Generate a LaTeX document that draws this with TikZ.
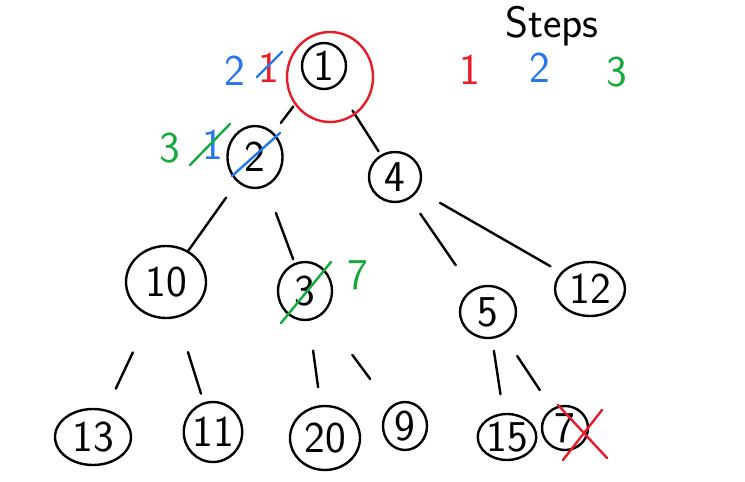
\documentclass[tikz,border=0pt]{standalone}
\usepackage{xcolor}
\usetikzlibrary{calc}
\usetikzlibrary{shapes.geometric}
\definecolor{penred}{RGB}{232,28,40}
\definecolor{penblue}{RGB}{38,118,240}
\definecolor{pengreen}{RGB}{22,170,62}

\begin{document}
\begin{tikzpicture}[x=1pt,y=-1pt,line width=2.4pt,line cap=round,line join=round,
  key/.style={draw,ellipse,inner sep=0pt,font=\sffamily\fontsize{44}{44}\selectfont},
  hand/.style={inner sep=0pt,font=\sffamily\fontsize{44}{44}\selectfont}]
\useasboundingbox (0,0) rectangle (745,482);

\node[key,minimum width=44pt,minimum height=46pt] (n1) at (324,66) {1};
\node[key,minimum width=55pt,minimum height=62pt] (n2) at (255,157) {2};
\node[key,minimum width=52pt,minimum height=50pt] (n4) at (395,177) {4};
\node[key,minimum width=80pt,minimum height=72pt] (n10) at (166,282) {10};
\node[key,minimum width=54pt,minimum height=58pt] (n3) at (305,291) {3};
\node[key,minimum width=56pt,minimum height=52pt] (n5) at (488,312) {5};
\node[key,minimum width=70pt,minimum height=54pt] (n12) at (590,289) {12};
\node[key,minimum width=76pt,minimum height=56pt] (n13) at (93,437) {13};
\node[key,minimum width=54pt,minimum height=60pt] (n11) at (213,432) {11};
\node[key,minimum width=70pt,minimum height=64pt] (n20) at (325,438) {20};
\node[key,minimum width=44pt,minimum height=48pt] (n9) at (405,426) {9};
\node[key,minimum width=52pt,minimum height=46pt] (n15) at (507,437) {15};
\node[key,minimum width=46pt,minimum height=44pt] (n7) at (565,428) {7};

\draw[shorten <=27pt,shorten >=12pt] (n1) -- (n2);
\draw[shorten <=29pt,shorten >=4pt] (n1) -- (n4);
\draw[shorten <=19pt] (n2) -- (n10);
\draw[shorten <=28pt,shorten >=4pt] (n2) -- (n3);
\draw[shorten <=18pt,shorten >=29pt] (n4) -- (n5);
\draw[shorten <=25pt,shorten >=12pt] (n4) -- (n12);
\draw[shorten <=40pt,shorten >=23pt] (n10) -- (n13);
\draw[shorten <=36pt,shorten >=9pt] (n10) -- (n11);
\draw[shorten <=30pt,shorten >=18pt] (n3) -- (n20);
\draw[shorten <=50pt,shorten >=34pt] (n3) -- (n9);
\draw[shorten <=12pt,shorten >=19pt] (n5) -- (n15);
\draw[shorten <=25pt,shorten >=22pt] (n5) -- (n7);

\draw[penred] ($(n1)+(6,11)$) circle[x radius=43pt,y radius=45pt];

\node[hand,text=penblue] (was2) at (235,71) {2};
\node[hand,text=penred] (was1) at (269,68) {1};
\draw[penblue] ($(was1)+(-12,9)$) -- ($(was1)+(13,-16)$);
\node[hand,text=pengreen] (was3) at (170,148) {3};
\node[hand,text=penblue] (now1) at (213,145) {1};
\draw[pengreen] ($(now1)+(-23,20)$) -- ($(now1)+(17,-21)$);
\draw[penblue] ($(n2)+(-23,19)$) -- ($(n2)+(25,-24)$);
\draw[pengreen] ($(n3)+(-24,32)$) -- ($(n3)+(26,-29)$);
\node[hand,text=pengreen] (new7) at (358,275) {7};
\draw[penred] ($(n7)+(-7,-23)$) -- ($(n7)+(42,30)$);
\draw[penred] ($(n7)+(37,-18)$) -- ($(n7)+(-2,32)$);

\node[hand,anchor=base] (steps) at (552,37) {Steps};
\node[hand,text=penred] (step1) at (470,70) {1};
\node[hand,text=penblue] (step2) at (540,68) {2};
\node[hand,text=pengreen] (step3) at (617,72) {3};
\end{tikzpicture}
\end{document}
